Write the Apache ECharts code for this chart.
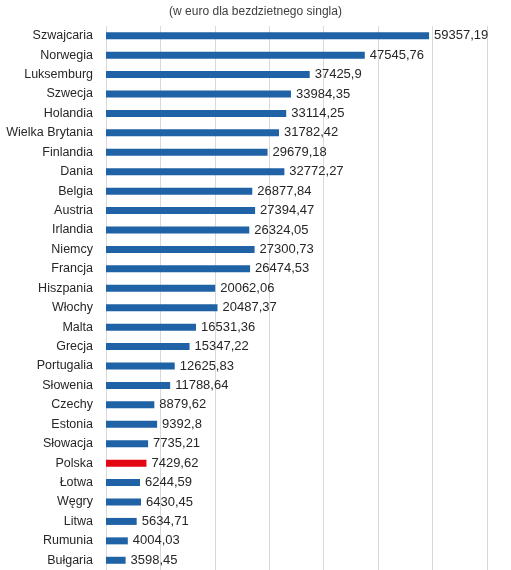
<!DOCTYPE html>
<html>
<head>
<meta charset="utf-8">
<script src="https://cdn.jsdelivr.net/npm/echarts@6/dist/echarts.min.js"></script>
<style>
html,body{margin:0;padding:0;background:#fff}
#chart{width:511px;height:570px}
</style>
</head>
<body>
<div id="chart"></div>
<script>
var countries = ['Szwajcaria','Norwegia','Luksemburg','Szwecja','Holandia','Wielka Brytania','Finlandia','Dania','Belgia','Austria','Irlandia','Niemcy','Francja','Hiszpania','Włochy','Malta','Grecja','Portugalia','Słowenia','Czechy','Estonia','Słowacja','Polska','Łotwa','Węgry','Litwa','Rumunia','Bułgaria']
var values = [59357.19,47545.76,37425.9,33984.35,33114.25,31782.42,29679.18,32772.27,26877.84,27394.47,26324.05,27300.73,26474.53,20062.06,20487.37,16531.36,15347.22,12625.83,11788.64,8879.62,9392.8,7735.21,7429.62,6244.59,6430.45,5634.71,4004.03,3598.45]
var highlight = 'Polska'
var subtitle = '(w euro dla bezdzietnego singla)'

var chart = echarts.init(document.getElementById('chart'))
var font = 'Liberation Sans'
var data = values.map(function(v,i){
    return {value:v,itemStyle:{color: countries[i]==highlight ? '#e30613' : '#1f62a6'}}
})
chart.setOption({
    animation:false,
    title:{
        text:subtitle,left:'center',top:1,
        textStyle:{fontFamily:font,fontSize:12,fontWeight:'normal',color:'#404040'}
    },
    grid:{left:106,right:24,top:26,bottom:0},
    xAxis:{
        type:'value',min:0,max:70000,interval:10000,
        axisLabel:{show:false},axisTick:{show:false},axisLine:{show:false},
        splitLine:{lineStyle:{color:'#d9d9d9',width:1}}
    },
    yAxis:{
        type:'category',data:countries,inverse:true,
        axisLine:{show:false},axisTick:{show:false},
        axisLabel:{fontFamily:font,fontSize:12.5,color:'#262626',margin:13}
    },
    series:[{
        type:'bar',data:data,barWidth:7,
        label:{
            show:true,position:'right',distance:5,
            fontFamily:font,fontSize:13,color:'#262626',
            formatter:function(p){return String(p.value).replace('.',',')}
        }
    }]
})
</script>
</body>
</html>
